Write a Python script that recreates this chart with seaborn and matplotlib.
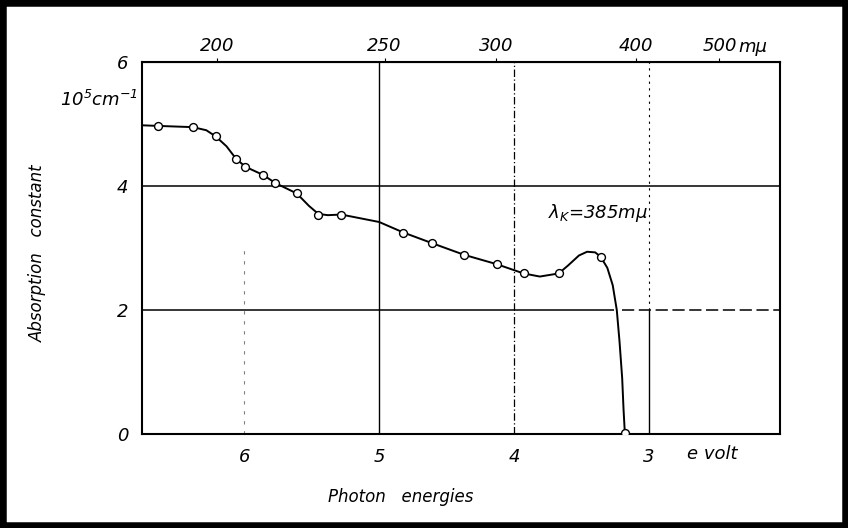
import numpy as np
import pandas as pd
import seaborn as sns
import matplotlib.pyplot as plt
from matplotlib.patches import Rectangle

# measured points (photon energy in eV, absorption constant in 1e5 cm^-1)
energy_pts = [6.64, 6.38, 6.21, 6.06, 5.99, 5.86, 5.77, 5.61, 5.45, 5.28,
              4.82, 4.61, 4.37, 4.13, 3.93, 3.67, 3.36, 3.18]
absorb_pts = [4.97, 4.95, 4.80, 4.44, 4.31, 4.18, 4.05, 3.88, 3.53, 3.54,
              3.25, 3.08, 2.89, 2.74, 2.59, 2.59, 2.86, 0.01]

# hand drawn curve
energy_curve = [6.76, 6.64, 6.38, 6.28, 6.21, 6.13, 6.06, 5.99, 5.86, 5.77,
                5.61, 5.52, 5.45, 5.38, 5.28, 5.00, 4.82, 4.61, 4.37, 4.13,
                3.93, 3.81, 3.67, 3.60, 3.52, 3.46, 3.40, 3.36, 3.31, 3.27,
                3.24, 3.22, 3.20, 3.19, 3.18]
absorb_curve = [4.98, 4.97, 4.95, 4.90, 4.80, 4.64, 4.44, 4.31, 4.18, 4.05,
                3.88, 3.68, 3.55, 3.53, 3.54, 3.42, 3.25, 3.08, 2.89, 2.74,
                2.59, 2.54, 2.59, 2.72, 2.88, 2.94, 2.93, 2.86, 2.68, 2.40,
                2.00, 1.50, 0.90, 0.40, 0.0]

y_ticks = [0, 2, 4, 6]
x_ticks = [6, 5, 4, 3]
wl_ticks = [200, 250, 300, 400, 500]
wl_labels = ["200", "250", "300", "400", "500"]

sns.set_style("white")
plt.rcParams["font.family"] = ["DejaVu Sans"]
plt.rcParams["font.style"] = "italic"
plt.rcParams["mathtext.default"] = "it"
plt.rcParams["text.color"] = "black"

fig = plt.figure(figsize=(8.48, 5.28), dpi=100)
ax = fig.add_axes([0.1675, 0.178, 0.7525, 0.7045])

curve = pd.DataFrame({"E": energy_curve, "A": absorb_curve})
pts = pd.DataFrame({"E": energy_pts, "A": absorb_pts})

# grid lines like the scanned figure
ax.axhline(4, color="black", lw=1.1, zorder=1)
ax.hlines(2, 6.76, 3.26, color="black", lw=1.1, zorder=1)
ax.hlines(2, 3.20, 2.03, color="black", lw=1.1, linestyles=(0, (8, 3)), zorder=1)
ax.axvline(5, color="black", lw=1.0, zorder=1)
ax.axvline(4, color="black", lw=0.9, linestyle=(0, (6, 2, 1, 2)), zorder=1)
ax.vlines(3, 0, 2, color="black", lw=1.0, zorder=1)
ax.vlines(3, 2, 6, color="black", lw=0.8, linestyle=(0, (2, 4)), zorder=1)
ax.vlines(6, 0, 3, color="gray", lw=0.8, linestyle=(0, (3, 6)), zorder=1)

sns.lineplot(data=curve, x="E", y="A", sort=False, color="black", lw=1.4,
             ax=ax, zorder=3)
sns.scatterplot(data=pts, x="E", y="A", marker="o", s=32, facecolor="white",
                edgecolor="black", linewidth=1.0, ax=ax, zorder=4)

ax.set_xlim(6.756, 2.03)
ax.set_ylim(0, 6)
ax.set_xticks(x_ticks)
ax.set_yticks(y_ticks)
ax.set_xlabel("")
ax.set_ylabel("")
ax.tick_params(axis="both", labelsize=13, colors="black")
ax.tick_params(axis="x", length=0, pad=10)
ax.tick_params(axis="y", length=4, direction="inout", pad=8)
for s in ax.spines.values():
    s.set_color("black")
    s.set_linewidth(1.5)

top = ax.secondary_xaxis("top", functions=(lambda e: 1240 / e, lambda w: 1240 / w))
top.set_xticks(wl_ticks)
top.set_xticklabels(wl_labels)
top.tick_params(labelsize=13, length=3, pad=2, colors="black")
ax.annotate("mμ", xy=(1240 / 500, 6), xytext=(14, 4), textcoords="offset points",
            fontsize=13, va="bottom", ha="left")

ax.text(3.38, 3.56, r"$\lambda_K$=385mμ", fontsize=13, ha="center", va="center")
ax.text(2.53, -0.17, "e volt", fontsize=13, ha="center", va="top")

fig.text(0.163, 0.81, r"$10^5$cm$^{-1}$", fontsize=13, ha="right", va="center")
fig.text(0.045, 0.52, "Absorption   constant", fontsize=12, rotation=90,
         ha="center", va="center")
fig.text(0.472, 0.058, "Photon   energies", fontsize=12, ha="center", va="center")

fig.patches.append(Rectangle((0, 0), 1, 1, transform=fig.transFigure, fill=False,
                             lw=9, ec="black"))

fig.savefig("out.png", dpi=100)
